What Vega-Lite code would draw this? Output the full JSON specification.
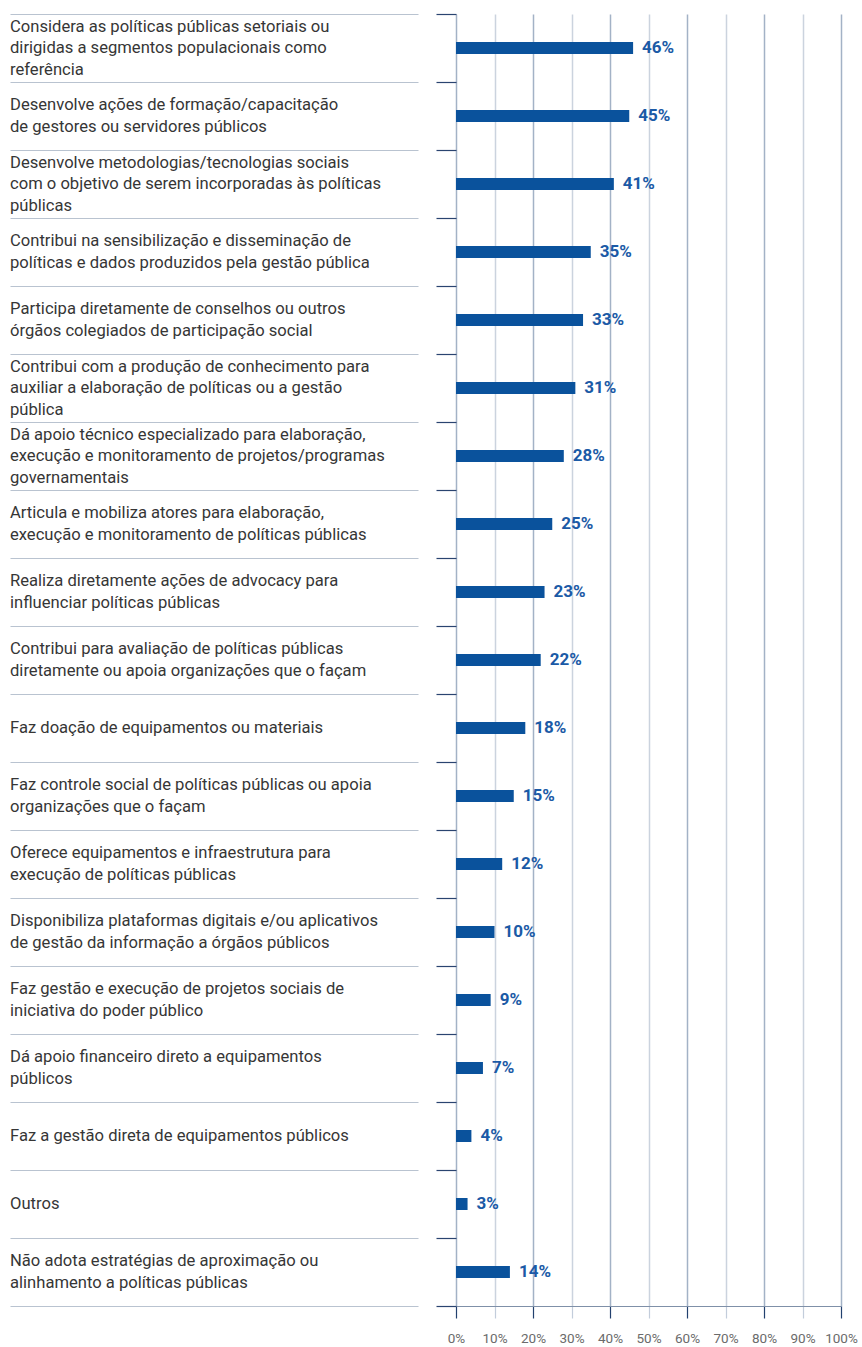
{
  "$schema": "https://vega.github.io/schema/vega-lite/v6.json",
  "padding": {"left": 10, "top": 13, "right": 21, "bottom": 5},
  "background": "white",
  "spacing": 17,
  "config": {"view": {"stroke": null}, "font": "Roboto"},
  "data": {"values": [
    {"ordem": 1, "categoria": "Considera as políticas públicas setoriais ou|dirigidas a segmentos populacionais como|referência", "pct": 46},
    {"ordem": 2, "categoria": "Desenvolve ações de formação/capacitação|de gestores ou servidores públicos", "pct": 45},
    {"ordem": 3, "categoria": "Desenvolve metodologias/tecnologias sociais|com o objetivo de serem incorporadas às políticas|públicas", "pct": 41},
    {"ordem": 4, "categoria": "Contribui na sensibilização e disseminação de|políticas e dados produzidos pela gestão pública", "pct": 35},
    {"ordem": 5, "categoria": "Participa diretamente de conselhos ou outros|órgãos colegiados de participação social", "pct": 33},
    {"ordem": 6, "categoria": "Contribui com a produção de conhecimento para|auxiliar a elaboração de políticas ou a gestão|pública", "pct": 31},
    {"ordem": 7, "categoria": "Dá apoio técnico especializado para elaboração,|execução e monitoramento de projetos/programas|governamentais", "pct": 28},
    {"ordem": 8, "categoria": "Articula e mobiliza atores para elaboração,|execução e monitoramento de políticas públicas", "pct": 25},
    {"ordem": 9, "categoria": "Realiza diretamente ações de advocacy para|influenciar políticas públicas", "pct": 23},
    {"ordem": 10, "categoria": "Contribui para avaliação de políticas públicas|diretamente ou apoia organizações que o façam", "pct": 22},
    {"ordem": 11, "categoria": "Faz doação de equipamentos ou materiais", "pct": 18},
    {"ordem": 12, "categoria": "Faz controle social de políticas públicas ou apoia|organizações que o façam", "pct": 15},
    {"ordem": 13, "categoria": "Oferece equipamentos e infraestrutura para|execução de políticas públicas", "pct": 12},
    {"ordem": 14, "categoria": "Disponibiliza plataformas digitais e/ou aplicativos|de gestão da informação a órgãos públicos", "pct": 10},
    {"ordem": 15, "categoria": "Faz gestão e execução de projetos sociais de|iniciativa do poder público", "pct": 9},
    {"ordem": 16, "categoria": "Dá apoio financeiro direto a equipamentos|públicos", "pct": 7},
    {"ordem": 17, "categoria": "Faz a gestão direta de equipamentos públicos", "pct": 4},
    {"ordem": 18, "categoria": "Outros", "pct": 3},
    {"ordem": 19, "categoria": "Não adota estratégias de aproximação ou|alinhamento a políticas públicas", "pct": 14}
  ]},
  "hconcat": [
    {
      "width": 408,
      "height": 1292,
      "encoding": {
        "y": {"field": "ordem", "type": "ordinal",
              "scale": {"paddingInner": 0, "paddingOuter": 0},
              "axis": {"title": null, "labels": false, "ticks": false, "domain": false, "grid": true, "tickBand": "extent", "gridColor": "#b9c3d0", "gridWidth": 1.2}},
        "x": {"datum": 0, "type": "quantitative", "scale": {"domain": [0, 1]}, "axis": null},
        "text": {"field": "categoria"}
      },
      "layer": [
        {"transform": [{"filter": "length(split(datum.categoria, '|')) == 1"}],
         "mark": {"type": "text", "align": "left", "baseline": "middle", "lineBreak": "|", "fontSize": 16.6, "lineHeight": 21.5, "color": "#363636", "font": "Roboto"}},
        {"transform": [{"filter": "length(split(datum.categoria, '|')) == 2"}],
         "mark": {"type": "text", "align": "left", "baseline": "middle", "lineBreak": "|", "fontSize": 16.6, "lineHeight": 21.5, "dy": -10.75, "color": "#363636", "font": "Roboto"}},
        {"transform": [{"filter": "length(split(datum.categoria, '|')) == 3"}],
         "mark": {"type": "text", "align": "left", "baseline": "middle", "lineBreak": "|", "fontSize": 16.6, "lineHeight": 21.5, "dy": -21.5, "color": "#363636", "font": "Roboto"}}
      ]
    },
    {
      "width": 385,
      "height": 1292,
      "encoding": {
        "y": {"field": "ordem", "type": "ordinal",
              "scale": {"paddingInner": 0, "paddingOuter": 0},
              "axis": {"title": null, "labels": false, "ticks": true, "tickSize": 20, "tickColor": "#2a4470", "tickWidth": 1.2, "domain": false, "grid": false, "tickBand": "extent"}},
        "x": {"field": "pct", "type": "quantitative",
              "scale": {"domain": [0, 100], "nice": false},
              "axis": {"title": null, "values": [0, 10, 20, 30, 40, 50, 60, 70, 80, 90, 100],
                       "labelExpr": "datum.value + '%'", "labelFontSize": 13.5, "labelColor": "#6b6b6b", "labelFont": "Roboto",
                       "labelOverlap": false, "labelFlush": false, "labelBound": false, "labelPadding": 13, "tickSize": 12, "tickWidth": 1.2,
                       "tickColor": {"condition": {"test": "datum.value % 20 === 0", "value": "#22406e"}, "value": "#c3cddb"},
                       "grid": true, "gridWidth": 1.5,
                       "gridColor": {"condition": {"test": "datum.value % 20 === 0", "value": "#a3b2c6"}, "value": "#cbd3de"},
                       "domainColor": "#7f90a8", "domainWidth": 1.2}}
      },
      "layer": [
        {"mark": {"type": "bar", "size": 12, "color": "#0a529c"}},
        {"mark": {"type": "text", "align": "left", "baseline": "middle", "dx": 9, "fontSize": 17, "fontWeight": "bold", "color": "#1b5aa6", "font": "Roboto", "text": {"expr": "datum.pct + '%'"}}}
      ]
    }
  ]
}
